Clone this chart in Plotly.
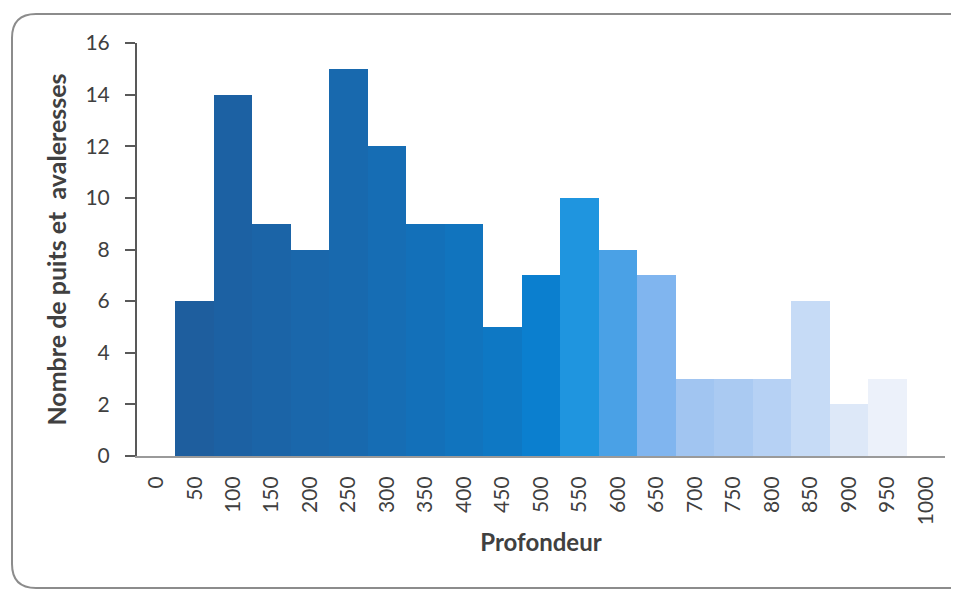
import plotly.graph_objects as go

depths = ["0", "50", "100", "150", "200", "250", "300", "350", "400", "450", "500",
          "550", "600", "650", "700", "750", "800", "850", "900", "950", "1000"]
counts = [0, 6, 14, 9, 8, 15, 12, 9, 9, 5, 7, 10, 8, 7, 3, 3, 3, 6, 2, 3, 0]
colors = ["#1d5c9a", "#1e5e9e", "#1c61a3", "#1b64a7", "#1a67ab", "#1869ae", "#166db4",
          "#1370b9", "#1174be", "#0e78c4", "#0b7fcf", "#1f95df", "#4aa1e6", "#80b5ef",
          "#a1c5f1", "#aacaf2", "#b6d1f4", "#c6dbf6", "#dde8f8", "#ecf1fa", "#fbfcfe"]

# page offset of 8px (body margin)
OFF = 8
PL, PR, PT, PB = 137, 945, 43, 456  # plot area in page pixels

fig = go.Figure(go.Bar(x=depths, y=counts, marker=dict(color=colors, line=dict(width=0))))

font = "Lato, 'Open Sans', sans-serif"
fig.update_layout(
    width=959, height=593,
    margin=dict(l=PL - OFF, r=959 - (PR - OFF), t=PT - OFF, b=593 - (PB - OFF), autoexpand=False),
    paper_bgcolor="white", plot_bgcolor="white",
    bargap=0, showlegend=False,
    font=dict(family=font, color="#404040", size=21),
    xaxis=dict(type="category", range=[-0.5, 20.5], tickangle=-90,
               showline=True, linecolor="#9a9a9a", linewidth=2,
               ticks="outside", ticklen=10, tickcolor="rgba(0,0,0,0)",
               showgrid=False, tickfont=dict(size=21, color="#404040"), automargin=False,
               title=dict(text="<b>Profondeur</b>", font=dict(size=24, color="#404040"), standoff=10)),
    yaxis=dict(range=[0, 16], dtick=2, showline=True, linecolor="#595959", linewidth=2,
               ticks="outside", ticklen=10, tickwidth=2, tickcolor="#595959", automargin=False,
               ticklabelstandoff=11,
               showgrid=False, zeroline=False, tickfont=dict(size=21, color="#404040"),
               title=dict(text="<b>Nombre de puits et  avaleresses</b>", font=dict(size=25, color="#404040"), standoff=12)),
)

# rounded chart border (paper coords relative to plot area)
W, H = PR - PL, PB - PT
def fx(px): return (px - PL) / W
def fy(py): return (PB - py) / H
bl, bt, bb, br = 12, 14, 588, 962
rx, ry = 24 / W, 24 / H
x0, x1, y0, y1 = fx(bl), fx(br), fy(bt), fy(bb)
path = (f"M {x0+rx},{y0} L {x1},{y0} L {x1},{y1} L {x0+rx},{y1} "
        f"Q {x0},{y1} {x0},{y1+ry} L {x0},{y0-ry} Q {x0},{y0} {x0+rx},{y0} Z")
fig.add_shape(type="path", xref="paper", yref="paper", path=path,
              line=dict(color="#8c8c8c", width=2), fillcolor="rgba(0,0,0,0)", layer="below")

fig.write_html("out.html")
